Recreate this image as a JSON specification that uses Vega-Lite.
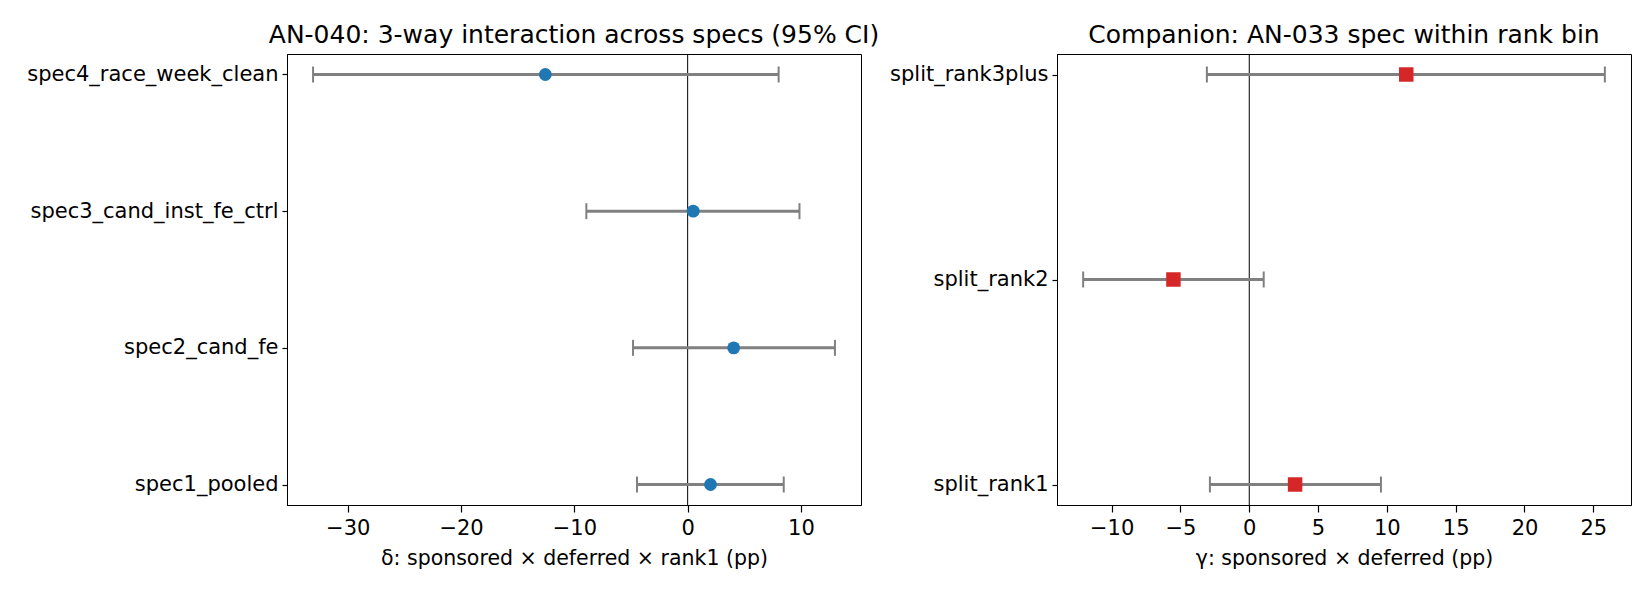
{
  "$schema": "https://vega.github.io/schema/vega-lite/v6.json",
  "background": "white",
  "padding": {"left": 22, "top": 22, "right": 0, "bottom": 0},
  "config": {
    "font": "DejaVu Sans",
    "view": {"stroke": "black", "strokeWidth": 1},
    "concat": {"spacing": 6},
    "axis": {
      "grid": false,
      "domainColor": "black",
      "domainWidth": 1,
      "tickColor": "black",
      "tickSize": 5,
      "tickWidth": 1.2,
      "labelPadding": 4,
      "labelLimit": 0,
      "labelFont": "DejaVu Sans",
      "labelFontSize": 21,
      "labelColor": "black",
      "titleFont": "DejaVu Sans",
      "titleFontSize": 20.5,
      "titleFontWeight": "normal",
      "titleColor": "black",
      "titlePadding": 10
    },
    "axisX": {"tickSize": 7, "labelPadding": 5},
    "title": {
      "font": "DejaVu Sans",
      "fontSize": 25,
      "fontWeight": "normal",
      "color": "black",
      "anchor": "middle",
      "frame": "group",
      "offset": 6
    }
  },
  "datasets": {
    "specs": [
      {"spec": "spec4_race_week_clean", "est": -12.56, "lo": -33.06, "hi": 8.03},
      {"spec": "spec3_cand_inst_fe_ctrl", "est": 0.49, "lo": -8.94, "hi": 9.87},
      {"spec": "spec2_cand_fe", "est": 4.06, "lo": -4.82, "hi": 13.0},
      {"spec": "spec1_pooled", "est": 2.02, "lo": -4.47, "hi": 8.48}
    ],
    "splits": [
      {"spec": "split_rank3plus", "est": 11.41, "lo": -3.08, "hi": 25.84},
      {"spec": "split_rank2", "est": -5.51, "lo": -12.07, "hi": 1.05},
      {"spec": "split_rank1", "est": 3.33, "lo": -2.86, "hi": 9.57}
    ]
  },
  "hconcat": [
    {
      "width": 574,
      "height": 451,
      "title": "AN-040: 3-way interaction across specs (95% CI)",
      "layer": [
        {
          "data": {"values": [{}]},
          "mark": {"type": "rule", "color": "black", "strokeWidth": 1},
          "encoding": {
            "x": {"datum": 0, "type": "quantitative", "title": "δ: sponsored × deferred × rank1 (pp)"}
          }
        },
        {
          "data": {"name": "specs"},
          "mark": {"type": "rule", "color": "#808080", "strokeWidth": 3},
          "encoding": {
            "x": {
              "field": "lo", "type": "quantitative",
              "title": "δ: sponsored × deferred × rank1 (pp)",
              "scale": {"domain": [-35.36, 15.3], "nice": false, "zero": false},
              "axis": {"values": [-30, -20, -10, 0, 10]}
            },
            "x2": {"field": "hi"},
            "y": {
              "field": "spec", "type": "nominal",
              "sort": ["spec4_race_week_clean", "spec3_cand_inst_fe_ctrl", "spec2_cand_fe", "spec1_pooled"],
              "scale": {"type": "point", "padding": 0.15},
              "axis": {"title": null, "minExtent": 264, "maxExtent": 264}
            }
          }
        },
        {
          "data": {"name": "specs"},
          "mark": {"type": "tick", "color": "#808080", "thickness": 2, "size": 16, "opacity": 1},
          "encoding": {
            "x": {"field": "lo", "type": "quantitative", "title": "δ: sponsored × deferred × rank1 (pp)"},
            "y": {"field": "spec", "type": "nominal", "sort": ["spec4_race_week_clean", "spec3_cand_inst_fe_ctrl", "spec2_cand_fe", "spec1_pooled"]}
          }
        },
        {
          "data": {"name": "specs"},
          "mark": {"type": "tick", "color": "#808080", "thickness": 2, "size": 16, "opacity": 1},
          "encoding": {
            "x": {"field": "hi", "type": "quantitative", "title": "δ: sponsored × deferred × rank1 (pp)"},
            "y": {"field": "spec", "type": "nominal", "sort": ["spec4_race_week_clean", "spec3_cand_inst_fe_ctrl", "spec2_cand_fe", "spec1_pooled"]}
          }
        },
        {
          "data": {"name": "specs"},
          "mark": {"type": "point", "shape": "circle", "filled": true, "size": 165, "color": "#1f77b4", "opacity": 1},
          "encoding": {
            "x": {"field": "est", "type": "quantitative", "title": "δ: sponsored × deferred × rank1 (pp)"},
            "y": {"field": "spec", "type": "nominal", "sort": ["spec4_race_week_clean", "spec3_cand_inst_fe_ctrl", "spec2_cand_fe", "spec1_pooled"]}
          }
        }
      ]
    },
    {
      "width": 574,
      "height": 451,
      "title": "Companion: AN-033 spec within rank bin",
      "layer": [
        {
          "data": {"values": [{}]},
          "mark": {"type": "rule", "color": "black", "strokeWidth": 1},
          "encoding": {
            "x": {"datum": 0, "type": "quantitative", "title": "γ: sponsored × deferred (pp)"}
          }
        },
        {
          "data": {"name": "splits"},
          "mark": {"type": "rule", "color": "#808080", "strokeWidth": 3},
          "encoding": {
            "x": {
              "field": "lo", "type": "quantitative",
              "title": "γ: sponsored × deferred (pp)",
              "scale": {"domain": [-13.97, 27.74], "nice": false, "zero": false},
              "axis": {"values": [-10, -5, 0, 5, 10, 15, 20, 25]}
            },
            "x2": {"field": "hi"},
            "y": {
              "field": "spec", "type": "nominal",
              "sort": ["split_rank3plus", "split_rank2", "split_rank1"],
              "scale": {"type": "point", "padding": 0.1},
              "axis": {"title": null, "minExtent": 170, "maxExtent": 170}
            }
          }
        },
        {
          "data": {"name": "splits"},
          "mark": {"type": "tick", "color": "#808080", "thickness": 2, "size": 16, "opacity": 1},
          "encoding": {
            "x": {"field": "lo", "type": "quantitative", "title": "γ: sponsored × deferred (pp)"},
            "y": {"field": "spec", "type": "nominal", "sort": ["split_rank3plus", "split_rank2", "split_rank1"]}
          }
        },
        {
          "data": {"name": "splits"},
          "mark": {"type": "tick", "color": "#808080", "thickness": 2, "size": 16, "opacity": 1},
          "encoding": {
            "x": {"field": "hi", "type": "quantitative", "title": "γ: sponsored × deferred (pp)"},
            "y": {"field": "spec", "type": "nominal", "sort": ["split_rank3plus", "split_rank2", "split_rank1"]}
          }
        },
        {
          "data": {"name": "splits"},
          "mark": {"type": "point", "shape": "square", "filled": true, "size": 210, "color": "#d62728", "opacity": 1},
          "encoding": {
            "x": {"field": "est", "type": "quantitative", "title": "γ: sponsored × deferred (pp)"},
            "y": {"field": "spec", "type": "nominal", "sort": ["split_rank3plus", "split_rank2", "split_rank1"]}
          }
        }
      ]
    }
  ]
}
